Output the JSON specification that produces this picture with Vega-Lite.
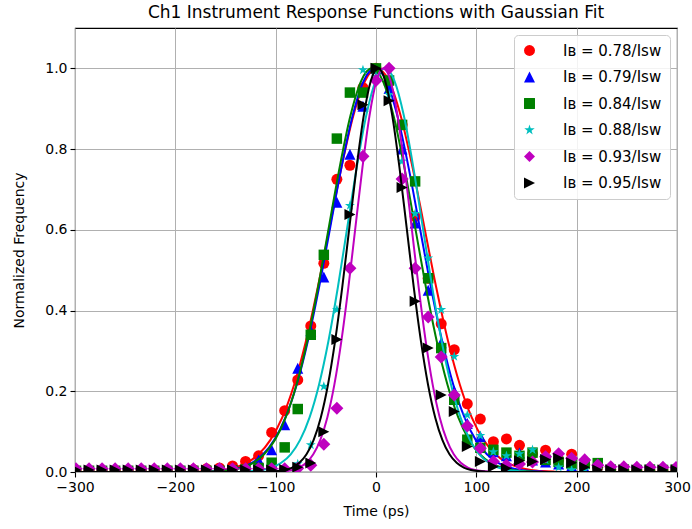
{
"$schema":"https://vega.github.io/schema/vega-lite/v6.json",
"autosize":{"type":"none"},
"padding":{"left":75,"top":28,"right":15,"bottom":57},
"width":602,"height":444,
"background":"white",
"title":{"text":"Ch1 Instrument Response Functions with Gaussian Fit","fontSize":17,"font":"DejaVu Sans","fontWeight":"normal","color":"#000","offset":6,"anchor":"middle"},
"config":{
"font":"DejaVu Sans",
"view":{"stroke":"#000","strokeWidth":1.1},
"axis":{"domain":false,"grid":true,"gridColor":"#b0b0b0","gridWidth":1,"tickColor":"#000","tickSize":5,"tickWidth":1.1,"labelFontSize":14,"labelColor":"#000","labelPadding":3,"labelFlush":false,"labelOverlap":false,"titleFontSize":14,"titleFontWeight":"normal","titleColor":"#000","labelFont":"DejaVu Sans","titleFont":"DejaVu Sans"},
"legend":{"orient":"top-right","offset":7,"padding":8,"fillColor":"rgba(255,255,255,0.85)","strokeColor":"#cccccc","strokeWidth":1,"cornerRadius":4,"labelFontSize":15,"labelFont":"DejaVu Sans","labelColor":"#000","symbolSize":120,"rowPadding":10.5,"labelOffset":26,"symbolOpacity":1,"symbolStrokeWidth":0}
},
"datasets":{
"pts":[
{"s":"0.78","x":-299,"y":0.004},{"s":"0.78","x":-286,"y":0.003},{"s":"0.78","x":-273,"y":0.004},{"s":"0.78","x":-260,"y":0.004},{"s":"0.78","x":-247,"y":0.003},{"s":"0.78","x":-234,"y":0.004},{"s":"0.78","x":-221,"y":0.004},{"s":"0.78","x":-208,"y":0.005},{"s":"0.78","x":-195,"y":0.004},{"s":"0.78","x":-182,"y":0.006},{"s":"0.78","x":-169,"y":0.008},{"s":"0.78","x":-156,"y":0.01},{"s":"0.78","x":-143,"y":0.015},{"s":"0.78","x":-130,"y":0.026},{"s":"0.78","x":-117,"y":0.04},{"s":"0.78","x":-104,"y":0.098},{"s":"0.78","x":-91,"y":0.152},{"s":"0.78","x":-78,"y":0.228},{"s":"0.78","x":-65,"y":0.362},{"s":"0.78","x":-52,"y":0.517},{"s":"0.78","x":-39,"y":0.725},{"s":"0.78","x":-26,"y":0.76},{"s":"0.78","x":-13,"y":0.952},{"s":"0.78","x":0,"y":1.0},{"s":"0.78","x":13,"y":0.966},{"s":"0.78","x":26,"y":0.86},{"s":"0.78","x":39,"y":0.633},{"s":"0.78","x":52,"y":0.48},{"s":"0.78","x":65,"y":0.367},{"s":"0.78","x":78,"y":0.303},{"s":"0.78","x":91,"y":0.169},{"s":"0.78","x":104,"y":0.131},{"s":"0.78","x":117,"y":0.075},{"s":"0.78","x":130,"y":0.082},{"s":"0.78","x":143,"y":0.066},{"s":"0.78","x":156,"y":0.045},{"s":"0.78","x":169,"y":0.054},{"s":"0.78","x":182,"y":0.03},{"s":"0.78","x":195,"y":0.044},{"s":"0.78","x":208,"y":0.018},{"s":"0.78","x":221,"y":0.012},{"s":"0.78","x":234,"y":0.006},{"s":"0.78","x":247,"y":0.004},{"s":"0.78","x":260,"y":0.004},{"s":"0.78","x":273,"y":0.003},{"s":"0.78","x":286,"y":0.004},{"s":"0.78","x":299,"y":0.004},
{"s":"0.79","x":-299,"y":0.003},{"s":"0.79","x":-286,"y":0.003},{"s":"0.79","x":-273,"y":0.003},{"s":"0.79","x":-260,"y":0.003},{"s":"0.79","x":-247,"y":0.003},{"s":"0.79","x":-234,"y":0.003},{"s":"0.79","x":-221,"y":0.003},{"s":"0.79","x":-208,"y":0.003},{"s":"0.79","x":-195,"y":0.003},{"s":"0.79","x":-182,"y":0.003},{"s":"0.79","x":-169,"y":0.004},{"s":"0.79","x":-156,"y":0.004},{"s":"0.79","x":-143,"y":0.005},{"s":"0.79","x":-130,"y":0.01},{"s":"0.79","x":-117,"y":0.03},{"s":"0.79","x":-104,"y":0.055},{"s":"0.79","x":-91,"y":0.117},{"s":"0.79","x":-78,"y":0.257},{"s":"0.79","x":-65,"y":0.35},{"s":"0.79","x":-52,"y":0.483},{"s":"0.79","x":-39,"y":0.668},{"s":"0.79","x":-26,"y":0.787},{"s":"0.79","x":-13,"y":0.906},{"s":"0.79","x":0,"y":1.0},{"s":"0.79","x":13,"y":0.95},{"s":"0.79","x":26,"y":0.8},{"s":"0.79","x":39,"y":0.617},{"s":"0.79","x":52,"y":0.45},{"s":"0.79","x":65,"y":0.32},{"s":"0.79","x":78,"y":0.2},{"s":"0.79","x":91,"y":0.12},{"s":"0.79","x":104,"y":0.088},{"s":"0.79","x":117,"y":0.05},{"s":"0.79","x":130,"y":0.04},{"s":"0.79","x":143,"y":0.047},{"s":"0.79","x":156,"y":0.03},{"s":"0.79","x":169,"y":0.025},{"s":"0.79","x":182,"y":0.02},{"s":"0.79","x":195,"y":0.015},{"s":"0.79","x":208,"y":0.01},{"s":"0.79","x":221,"y":0.005},{"s":"0.79","x":234,"y":0.004},{"s":"0.79","x":247,"y":0.004},{"s":"0.79","x":260,"y":0.004},{"s":"0.79","x":273,"y":0.004},{"s":"0.79","x":286,"y":0.004},{"s":"0.79","x":299,"y":0.004},
{"s":"0.84","x":-299,"y":0.003},{"s":"0.84","x":-286,"y":0.003},{"s":"0.84","x":-273,"y":0.003},{"s":"0.84","x":-260,"y":0.003},{"s":"0.84","x":-247,"y":0.003},{"s":"0.84","x":-234,"y":0.003},{"s":"0.84","x":-221,"y":0.003},{"s":"0.84","x":-208,"y":0.003},{"s":"0.84","x":-195,"y":0.003},{"s":"0.84","x":-182,"y":0.003},{"s":"0.84","x":-169,"y":0.003},{"s":"0.84","x":-156,"y":0.003},{"s":"0.84","x":-143,"y":0.004},{"s":"0.84","x":-130,"y":0.006},{"s":"0.84","x":-117,"y":0.01},{"s":"0.84","x":-104,"y":0.023},{"s":"0.84","x":-91,"y":0.061},{"s":"0.84","x":-78,"y":0.156},{"s":"0.84","x":-65,"y":0.34},{"s":"0.84","x":-52,"y":0.538},{"s":"0.84","x":-39,"y":0.826},{"s":"0.84","x":-26,"y":0.94},{"s":"0.84","x":-13,"y":0.94},{"s":"0.84","x":0,"y":1.0},{"s":"0.84","x":13,"y":0.97},{"s":"0.84","x":26,"y":0.86},{"s":"0.84","x":39,"y":0.72},{"s":"0.84","x":52,"y":0.48},{"s":"0.84","x":65,"y":0.307},{"s":"0.84","x":78,"y":0.179},{"s":"0.84","x":91,"y":0.08},{"s":"0.84","x":104,"y":0.06},{"s":"0.84","x":117,"y":0.055},{"s":"0.84","x":130,"y":0.048},{"s":"0.84","x":143,"y":0.04},{"s":"0.84","x":156,"y":0.048},{"s":"0.84","x":169,"y":0.03},{"s":"0.84","x":182,"y":0.025},{"s":"0.84","x":195,"y":0.02},{"s":"0.84","x":208,"y":0.02},{"s":"0.84","x":221,"y":0.022},{"s":"0.84","x":234,"y":0.006},{"s":"0.84","x":247,"y":0.006},{"s":"0.84","x":260,"y":0.005},{"s":"0.84","x":273,"y":0.006},{"s":"0.84","x":286,"y":0.005},{"s":"0.84","x":299,"y":0.006},
{"s":"0.88","x":-299,"y":0.003},{"s":"0.88","x":-286,"y":0.003},{"s":"0.88","x":-273,"y":0.003},{"s":"0.88","x":-260,"y":0.003},{"s":"0.88","x":-247,"y":0.003},{"s":"0.88","x":-234,"y":0.003},{"s":"0.88","x":-221,"y":0.003},{"s":"0.88","x":-208,"y":0.003},{"s":"0.88","x":-195,"y":0.003},{"s":"0.88","x":-182,"y":0.003},{"s":"0.88","x":-169,"y":0.003},{"s":"0.88","x":-156,"y":0.003},{"s":"0.88","x":-143,"y":0.003},{"s":"0.88","x":-130,"y":0.003},{"s":"0.88","x":-117,"y":0.003},{"s":"0.88","x":-104,"y":0.004},{"s":"0.88","x":-91,"y":0.006},{"s":"0.88","x":-78,"y":0.02},{"s":"0.88","x":-65,"y":0.067},{"s":"0.88","x":-52,"y":0.212},{"s":"0.88","x":-39,"y":0.402},{"s":"0.88","x":-26,"y":0.66},{"s":"0.88","x":-13,"y":0.996},{"s":"0.88","x":0,"y":0.98},{"s":"0.88","x":13,"y":0.935},{"s":"0.88","x":26,"y":0.77},{"s":"0.88","x":39,"y":0.64},{"s":"0.88","x":52,"y":0.53},{"s":"0.88","x":65,"y":0.402},{"s":"0.88","x":78,"y":0.286},{"s":"0.88","x":91,"y":0.141},{"s":"0.88","x":104,"y":0.09},{"s":"0.88","x":117,"y":0.05},{"s":"0.88","x":130,"y":0.04},{"s":"0.88","x":143,"y":0.045},{"s":"0.88","x":156,"y":0.055},{"s":"0.88","x":169,"y":0.03},{"s":"0.88","x":182,"y":0.012},{"s":"0.88","x":195,"y":0.005},{"s":"0.88","x":208,"y":0.005},{"s":"0.88","x":221,"y":0.005},{"s":"0.88","x":234,"y":0.005},{"s":"0.88","x":247,"y":0.005},{"s":"0.88","x":260,"y":0.005},{"s":"0.88","x":273,"y":0.005},{"s":"0.88","x":286,"y":0.005},{"s":"0.88","x":299,"y":0.005},
{"s":"0.93","x":-299,"y":0.008},{"s":"0.93","x":-286,"y":0.008},{"s":"0.93","x":-273,"y":0.008},{"s":"0.93","x":-260,"y":0.008},{"s":"0.93","x":-247,"y":0.008},{"s":"0.93","x":-234,"y":0.008},{"s":"0.93","x":-221,"y":0.008},{"s":"0.93","x":-208,"y":0.008},{"s":"0.93","x":-195,"y":0.008},{"s":"0.93","x":-182,"y":0.008},{"s":"0.93","x":-169,"y":0.008},{"s":"0.93","x":-156,"y":0.008},{"s":"0.93","x":-143,"y":0.008},{"s":"0.93","x":-130,"y":0.008},{"s":"0.93","x":-117,"y":0.008},{"s":"0.93","x":-104,"y":0.008},{"s":"0.93","x":-91,"y":0.008},{"s":"0.93","x":-78,"y":0.009},{"s":"0.93","x":-65,"y":0.017},{"s":"0.93","x":-52,"y":0.069},{"s":"0.93","x":-39,"y":0.158},{"s":"0.93","x":-26,"y":0.505},{"s":"0.93","x":-13,"y":0.782},{"s":"0.93","x":0,"y":0.97},{"s":"0.93","x":13,"y":1.0},{"s":"0.93","x":26,"y":0.726},{"s":"0.93","x":39,"y":0.505},{"s":"0.93","x":52,"y":0.384},{"s":"0.93","x":65,"y":0.285},{"s":"0.93","x":78,"y":0.191},{"s":"0.93","x":91,"y":0.114},{"s":"0.93","x":104,"y":0.059},{"s":"0.93","x":117,"y":0.026},{"s":"0.93","x":130,"y":0.017},{"s":"0.93","x":143,"y":0.02},{"s":"0.93","x":156,"y":0.025},{"s":"0.93","x":169,"y":0.038},{"s":"0.93","x":182,"y":0.045},{"s":"0.93","x":195,"y":0.034},{"s":"0.93","x":208,"y":0.03},{"s":"0.93","x":221,"y":0.017},{"s":"0.93","x":234,"y":0.013},{"s":"0.93","x":247,"y":0.013},{"s":"0.93","x":260,"y":0.012},{"s":"0.93","x":273,"y":0.012},{"s":"0.93","x":286,"y":0.012},{"s":"0.93","x":299,"y":0.011},
{"s":"0.95","x":-299,"y":0.005},{"s":"0.95","x":-286,"y":0.005},{"s":"0.95","x":-273,"y":0.005},{"s":"0.95","x":-260,"y":0.005},{"s":"0.95","x":-247,"y":0.005},{"s":"0.95","x":-234,"y":0.005},{"s":"0.95","x":-221,"y":0.005},{"s":"0.95","x":-208,"y":0.005},{"s":"0.95","x":-195,"y":0.005},{"s":"0.95","x":-182,"y":0.005},{"s":"0.95","x":-169,"y":0.005},{"s":"0.95","x":-156,"y":0.005},{"s":"0.95","x":-143,"y":0.005},{"s":"0.95","x":-130,"y":0.005},{"s":"0.95","x":-117,"y":0.005},{"s":"0.95","x":-104,"y":0.005},{"s":"0.95","x":-91,"y":0.006},{"s":"0.95","x":-78,"y":0.012},{"s":"0.95","x":-65,"y":0.022},{"s":"0.95","x":-52,"y":0.1},{"s":"0.95","x":-39,"y":0.328},{"s":"0.95","x":-26,"y":0.638},{"s":"0.95","x":-13,"y":0.91},{"s":"0.95","x":0,"y":1.0},{"s":"0.95","x":13,"y":0.92},{"s":"0.95","x":26,"y":0.705},{"s":"0.95","x":39,"y":0.423},{"s":"0.95","x":52,"y":0.307},{"s":"0.95","x":65,"y":0.191},{"s":"0.95","x":78,"y":0.15},{"s":"0.95","x":91,"y":0.063},{"s":"0.95","x":104,"y":0.026},{"s":"0.95","x":117,"y":0.013},{"s":"0.95","x":130,"y":0.009},{"s":"0.95","x":143,"y":0.028},{"s":"0.95","x":156,"y":0.026},{"s":"0.95","x":169,"y":0.031},{"s":"0.95","x":182,"y":0.034},{"s":"0.95","x":195,"y":0.023},{"s":"0.95","x":208,"y":0.012},{"s":"0.95","x":221,"y":0.005},{"s":"0.95","x":234,"y":0.005},{"s":"0.95","x":247,"y":0.005},{"s":"0.95","x":260,"y":0.005},{"s":"0.95","x":273,"y":0.005},{"s":"0.95","x":286,"y":0.005},{"s":"0.95","x":299,"y":0.005}
],
"fit":[
{"s":"0.78","x":-300,"y":0},{"s":"0.78","x":-187.8,"y":0.0003},{"s":"0.78","x":-176,"y":0.0009},{"s":"0.78","x":-164.2,"y":0.0022},{"s":"0.78","x":-152.4,"y":0.0051},{"s":"0.78","x":-140.6,"y":0.0111},{"s":"0.78","x":-128.8,"y":0.0228},{"s":"0.78","x":-117,"y":0.0439},{"s":"0.78","x":-105.2,"y":0.0796},{"s":"0.78","x":-93.4,"y":0.1353},{"s":"0.78","x":-81.6,"y":0.2163},{"s":"0.78","x":-69.8,"y":0.3247},{"s":"0.78","x":-58,"y":0.4578},{"s":"0.78","x":-46.2,"y":0.6065},{"s":"0.78","x":-34.4,"y":0.7548},{"s":"0.78","x":-22.6,"y":0.8825},{"s":"0.78","x":-10.8,"y":0.9692},{"s":"0.78","x":1,"y":1},{"s":"0.78","x":12.8,"y":0.9692},{"s":"0.78","x":24.6,"y":0.8825},{"s":"0.78","x":36.4,"y":0.7548},{"s":"0.78","x":48.2,"y":0.6065},{"s":"0.78","x":60,"y":0.4578},{"s":"0.78","x":71.8,"y":0.3247},{"s":"0.78","x":83.6,"y":0.2163},{"s":"0.78","x":95.4,"y":0.1353},{"s":"0.78","x":107.2,"y":0.0796},{"s":"0.78","x":119,"y":0.0439},{"s":"0.78","x":130.8,"y":0.0228},{"s":"0.78","x":142.6,"y":0.0111},{"s":"0.78","x":154.4,"y":0.0051},{"s":"0.78","x":166.2,"y":0.0022},{"s":"0.78","x":178,"y":0.0009},{"s":"0.78","x":189.8,"y":0.0003},{"s":"0.78","x":300,"y":0},
{"s":"0.79","x":-300,"y":0},{"s":"0.79","x":-179.4,"y":0.0003},{"s":"0.79","x":-168.25,"y":0.0009},{"s":"0.79","x":-157.1,"y":0.0022},{"s":"0.79","x":-145.95,"y":0.0051},{"s":"0.79","x":-134.8,"y":0.0111},{"s":"0.79","x":-123.65,"y":0.0228},{"s":"0.79","x":-112.5,"y":0.0439},{"s":"0.79","x":-101.35,"y":0.0796},{"s":"0.79","x":-90.2,"y":0.1353},{"s":"0.79","x":-79.05,"y":0.2163},{"s":"0.79","x":-67.9,"y":0.3247},{"s":"0.79","x":-56.75,"y":0.4578},{"s":"0.79","x":-45.6,"y":0.6065},{"s":"0.79","x":-34.45,"y":0.7548},{"s":"0.79","x":-23.3,"y":0.8825},{"s":"0.79","x":-12.15,"y":0.9692},{"s":"0.79","x":-1,"y":1},{"s":"0.79","x":10.15,"y":0.9692},{"s":"0.79","x":21.3,"y":0.8825},{"s":"0.79","x":32.45,"y":0.7548},{"s":"0.79","x":43.6,"y":0.6065},{"s":"0.79","x":54.75,"y":0.4578},{"s":"0.79","x":65.9,"y":0.3247},{"s":"0.79","x":77.05,"y":0.2163},{"s":"0.79","x":88.2,"y":0.1353},{"s":"0.79","x":99.35,"y":0.0796},{"s":"0.79","x":110.5,"y":0.0439},{"s":"0.79","x":121.65,"y":0.0228},{"s":"0.79","x":132.8,"y":0.0111},{"s":"0.79","x":143.95,"y":0.0051},{"s":"0.79","x":155.1,"y":0.0022},{"s":"0.79","x":166.25,"y":0.0009},{"s":"0.79","x":177.4,"y":0.0003},{"s":"0.79","x":300,"y":0},
{"s":"0.84","x":-300,"y":0},{"s":"0.84","x":-176,"y":0.0003},{"s":"0.84","x":-165.25,"y":0.0009},{"s":"0.84","x":-154.5,"y":0.0022},{"s":"0.84","x":-143.75,"y":0.0051},{"s":"0.84","x":-133,"y":0.0111},{"s":"0.84","x":-122.25,"y":0.0228},{"s":"0.84","x":-111.5,"y":0.0439},{"s":"0.84","x":-100.75,"y":0.0796},{"s":"0.84","x":-90,"y":0.1353},{"s":"0.84","x":-79.25,"y":0.2163},{"s":"0.84","x":-68.5,"y":0.3247},{"s":"0.84","x":-57.75,"y":0.4578},{"s":"0.84","x":-47,"y":0.6065},{"s":"0.84","x":-36.25,"y":0.7548},{"s":"0.84","x":-25.5,"y":0.8825},{"s":"0.84","x":-14.75,"y":0.9692},{"s":"0.84","x":-4,"y":1},{"s":"0.84","x":6.75,"y":0.9692},{"s":"0.84","x":17.5,"y":0.8825},{"s":"0.84","x":28.25,"y":0.7548},{"s":"0.84","x":39,"y":0.6065},{"s":"0.84","x":49.75,"y":0.4578},{"s":"0.84","x":60.5,"y":0.3247},{"s":"0.84","x":71.25,"y":0.2163},{"s":"0.84","x":82,"y":0.1353},{"s":"0.84","x":92.75,"y":0.0796},{"s":"0.84","x":103.5,"y":0.0439},{"s":"0.84","x":114.25,"y":0.0228},{"s":"0.84","x":125,"y":0.0111},{"s":"0.84","x":135.75,"y":0.0051},{"s":"0.84","x":146.5,"y":0.0022},{"s":"0.84","x":157.25,"y":0.0009},{"s":"0.84","x":168,"y":0.0003},{"s":"0.84","x":300,"y":0},
{"s":"0.88","x":-300,"y":0},{"s":"0.88","x":-141.4,"y":0.0003},{"s":"0.88","x":-132,"y":0.0009},{"s":"0.88","x":-122.6,"y":0.0022},{"s":"0.88","x":-113.2,"y":0.0051},{"s":"0.88","x":-103.8,"y":0.0111},{"s":"0.88","x":-94.4,"y":0.0228},{"s":"0.88","x":-85,"y":0.0439},{"s":"0.88","x":-75.6,"y":0.0796},{"s":"0.88","x":-66.2,"y":0.1353},{"s":"0.88","x":-56.8,"y":0.2163},{"s":"0.88","x":-47.4,"y":0.3247},{"s":"0.88","x":-38,"y":0.4578},{"s":"0.88","x":-28.6,"y":0.6065},{"s":"0.88","x":-19.2,"y":0.7548},{"s":"0.88","x":-9.8,"y":0.8825},{"s":"0.88","x":-0.4,"y":0.9692},{"s":"0.88","x":9,"y":1},{"s":"0.88","x":18.4,"y":0.9692},{"s":"0.88","x":27.8,"y":0.8825},{"s":"0.88","x":37.2,"y":0.7548},{"s":"0.88","x":46.6,"y":0.6065},{"s":"0.88","x":56,"y":0.4578},{"s":"0.88","x":65.4,"y":0.3247},{"s":"0.88","x":74.8,"y":0.2163},{"s":"0.88","x":84.2,"y":0.1353},{"s":"0.88","x":93.6,"y":0.0796},{"s":"0.88","x":103,"y":0.0439},{"s":"0.88","x":112.4,"y":0.0228},{"s":"0.88","x":121.8,"y":0.0111},{"s":"0.88","x":131.2,"y":0.0051},{"s":"0.88","x":140.6,"y":0.0022},{"s":"0.88","x":150,"y":0.0009},{"s":"0.88","x":159.4,"y":0.0003},{"s":"0.88","x":300,"y":0},
{"s":"0.93","x":-300,"y":0},{"s":"0.93","x":-104.5,"y":0.0003},{"s":"0.93","x":-97.5,"y":0.0009},{"s":"0.93","x":-90.5,"y":0.0022},{"s":"0.93","x":-83.5,"y":0.0051},{"s":"0.93","x":-76.5,"y":0.0111},{"s":"0.93","x":-69.5,"y":0.0228},{"s":"0.93","x":-62.5,"y":0.0439},{"s":"0.93","x":-55.5,"y":0.0796},{"s":"0.93","x":-48.5,"y":0.1353},{"s":"0.93","x":-41.5,"y":0.2163},{"s":"0.93","x":-34.5,"y":0.3247},{"s":"0.93","x":-27.5,"y":0.4578},{"s":"0.93","x":-20.5,"y":0.6065},{"s":"0.93","x":-13.5,"y":0.7548},{"s":"0.93","x":-6.5,"y":0.8825},{"s":"0.93","x":0.5,"y":0.9692},{"s":"0.93","x":7.5,"y":1},{"s":"0.93","x":14.5,"y":0.9692},{"s":"0.93","x":21.5,"y":0.8825},{"s":"0.93","x":28.5,"y":0.7548},{"s":"0.93","x":35.5,"y":0.6065},{"s":"0.93","x":42.5,"y":0.4578},{"s":"0.93","x":49.5,"y":0.3247},{"s":"0.93","x":56.5,"y":0.2163},{"s":"0.93","x":63.5,"y":0.1353},{"s":"0.93","x":70.5,"y":0.0796},{"s":"0.93","x":77.5,"y":0.0439},{"s":"0.93","x":84.5,"y":0.0228},{"s":"0.93","x":91.5,"y":0.0111},{"s":"0.93","x":98.5,"y":0.0051},{"s":"0.93","x":105.5,"y":0.0022},{"s":"0.93","x":112.5,"y":0.0009},{"s":"0.93","x":119.5,"y":0.0003},{"s":"0.93","x":300,"y":0},
{"s":"0.95","x":-300,"y":0},{"s":"0.95","x":-112,"y":0.0003},{"s":"0.95","x":-104.875,"y":0.0009},{"s":"0.95","x":-97.75,"y":0.0022},{"s":"0.95","x":-90.625,"y":0.0051},{"s":"0.95","x":-83.5,"y":0.0111},{"s":"0.95","x":-76.375,"y":0.0228},{"s":"0.95","x":-69.25,"y":0.0439},{"s":"0.95","x":-62.125,"y":0.0796},{"s":"0.95","x":-55,"y":0.1353},{"s":"0.95","x":-47.875,"y":0.2163},{"s":"0.95","x":-40.75,"y":0.3247},{"s":"0.95","x":-33.625,"y":0.4578},{"s":"0.95","x":-26.5,"y":0.6065},{"s":"0.95","x":-19.375,"y":0.7548},{"s":"0.95","x":-12.25,"y":0.8825},{"s":"0.95","x":-5.125,"y":0.9692},{"s":"0.95","x":2,"y":1},{"s":"0.95","x":9.125,"y":0.9692},{"s":"0.95","x":16.25,"y":0.8825},{"s":"0.95","x":23.375,"y":0.7548},{"s":"0.95","x":30.5,"y":0.6065},{"s":"0.95","x":37.625,"y":0.4578},{"s":"0.95","x":44.75,"y":0.3247},{"s":"0.95","x":51.875,"y":0.2163},{"s":"0.95","x":59,"y":0.1353},{"s":"0.95","x":66.125,"y":0.0796},{"s":"0.95","x":73.25,"y":0.0439},{"s":"0.95","x":80.375,"y":0.0228},{"s":"0.95","x":87.5,"y":0.0111},{"s":"0.95","x":94.625,"y":0.0051},{"s":"0.95","x":101.75,"y":0.0022},{"s":"0.95","x":108.875,"y":0.0009},{"s":"0.95","x":116,"y":0.0003},{"s":"0.95","x":300,"y":0}
]
},
"encoding":{
"x":{"field":"x","type":"quantitative","title":"Time (ps)","scale":{"domain":[-300,300],"nice":false,"zero":false},"axis":{"values":[-300,-200,-100,0,100,200,300],"titlePadding":10}},
"y":{"field":"y","type":"quantitative","title":"Normalized Frequency","scale":{"domain":[0,1.1],"nice":false},"axis":{"values":[0,0.2,0.4,0.6,0.8,1.0],"format":".1f","titlePadding":18}}
},
"layer":[
{"data":{"name":"pts"},"transform":[{"filter":"datum.s==='0.78'"}],"mark":{"type":"point","filled":true,"opacity":1,"clip":true,"size":121},"encoding":{"color":{"field":"s","type":"nominal","scale":{"domain":["0.78","0.79","0.84","0.88","0.93","0.95"],"range":["#ff0000","#0000ff","#008000","#00bfbf","#bf00bf","#000000"]},"legend":{"title":null,"labelExpr":"'Iʙ = ' + datum.label + '/Iꜱᴡ'"}},"shape":{"field":"s","type":"nominal","scale":{"domain":["0.78","0.79","0.84","0.88","0.93","0.95"],"range":["circle","M0,-1L1,1L-1,1Z","square","M0,-1L0.224,-0.309L0.951,-0.309L0.363,0.118L0.588,0.809L0,0.382L-0.588,0.809L-0.363,0.118L-0.951,-0.309L-0.224,-0.309Z","diamond","M1,0L-1,-1L-1,1Z"]}}}},
{"data":{"name":"fit"},"transform":[{"filter":"datum.s==='0.78'"}],"mark":{"type":"line","color":"#ff0000","strokeWidth":2,"interpolate":"monotone","clip":true}},
{"data":{"name":"pts"},"transform":[{"filter":"datum.s==='0.79'"}],"mark":{"type":"point","filled":true,"opacity":1,"clip":true,"size":121},"encoding":{"color":{"field":"s","type":"nominal"},"shape":{"field":"s","type":"nominal"}}},
{"data":{"name":"fit"},"transform":[{"filter":"datum.s==='0.79'"}],"mark":{"type":"line","color":"#0000ff","strokeWidth":2,"interpolate":"monotone","clip":true}},
{"data":{"name":"pts"},"transform":[{"filter":"datum.s==='0.84'"}],"mark":{"type":"point","filled":true,"opacity":1,"clip":true,"size":110},"encoding":{"color":{"field":"s","type":"nominal"},"shape":{"field":"s","type":"nominal"}}},
{"data":{"name":"fit"},"transform":[{"filter":"datum.s==='0.84'"}],"mark":{"type":"line","color":"#008000","strokeWidth":2,"interpolate":"monotone","clip":true}},
{"data":{"name":"pts"},"transform":[{"filter":"datum.s==='0.88'"}],"mark":{"type":"point","filled":true,"opacity":1,"clip":true,"size":110},"encoding":{"color":{"field":"s","type":"nominal"},"shape":{"field":"s","type":"nominal"}}},
{"data":{"name":"fit"},"transform":[{"filter":"datum.s==='0.88'"}],"mark":{"type":"line","color":"#00bfbf","strokeWidth":2,"interpolate":"monotone","clip":true}},
{"data":{"name":"pts"},"transform":[{"filter":"datum.s==='0.93'"}],"mark":{"type":"point","filled":true,"opacity":1,"clip":true,"size":170},"encoding":{"color":{"field":"s","type":"nominal"},"shape":{"field":"s","type":"nominal"}}},
{"data":{"name":"fit"},"transform":[{"filter":"datum.s==='0.93'"}],"mark":{"type":"line","color":"#bf00bf","strokeWidth":2,"interpolate":"monotone","clip":true}},
{"data":{"name":"pts"},"transform":[{"filter":"datum.s==='0.95'"}],"mark":{"type":"point","filled":true,"opacity":1,"clip":true,"size":121},"encoding":{"color":{"field":"s","type":"nominal"},"shape":{"field":"s","type":"nominal"}}},
{"data":{"name":"fit"},"transform":[{"filter":"datum.s==='0.95'"}],"mark":{"type":"line","color":"#000000","strokeWidth":2,"interpolate":"monotone","clip":true}}
]
}
